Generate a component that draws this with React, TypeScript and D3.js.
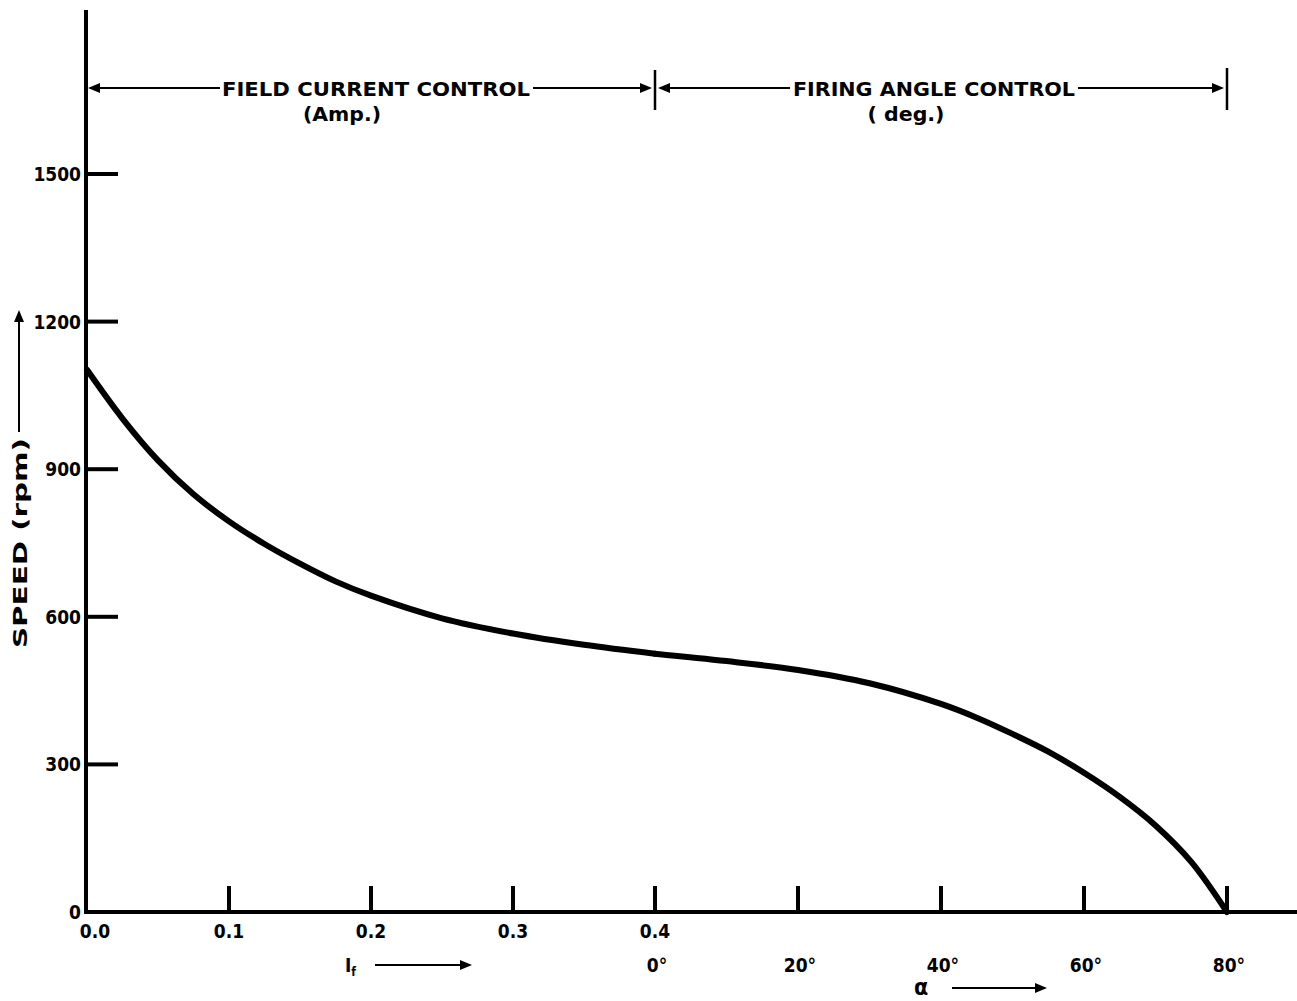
import React from "react";
import * as d3 from "d3";

// Field current control segment: If (A) -> speed (rpm)
const fieldCurrent = [0.0, 0.025, 0.05, 0.075, 0.1, 0.125, 0.15, 0.175, 0.2, 0.25, 0.3, 0.35, 0.4];
const fieldSpeed = [1102, 1003, 918, 849, 794, 748, 708, 672, 643, 597, 566, 543, 525];

// Firing angle control segment: alpha (deg) -> speed (rpm)
const firingAngle = [0, 10, 20, 30, 40, 45, 50, 55, 60, 65, 70, 75, 80];
const firingSpeed = [525, 510, 492, 465, 423, 395, 362, 326, 283, 234, 176, 102, 0];

const speedTicks = [0, 300, 600, 900, 1200, 1500];
const currentTicks = [0.0, 0.1, 0.2, 0.3, 0.4];
const currentTickLabels = ["0.0", "0.1", "0.2", "0.3", "0.4"];
const angleTicks = [0, 20, 40, 60, 80];
const angleTickLabels = ["0°", "20°", "40°", "60°", "80°"];

const FONT = "'DejaVu Sans Condensed', 'Liberation Sans Narrow', 'DejaVu Sans', sans-serif";

export default function App() {
  const W = 1297;
  const H = 1001;
  const y = d3.scaleLinear().domain([0, 1500]).range([912, 174]);
  const xI = d3.scaleLinear().domain([0, 0.4]).range([87, 655]);
  const xA = d3.scaleLinear().domain([0, 80]).range([655, 1227]);

  const lineI = d3
    .line<number>()
    .x((_, i) => xI(fieldCurrent[i]))
    .y((d) => y(d))
    .curve(d3.curveCatmullRom.alpha(0.5));
  const lineA = d3
    .line<number>()
    .x((_, i) => xA(firingAngle[i]))
    .y((d) => y(d))
    .curve(d3.curveCatmullRom.alpha(0.5));

  const axisX = xI(0) - 1;
  const axisY = y(0);
  const arrowY = 88;

  const arrowHead = (x: number, yy: number, dir: "l" | "r" | "u") => {
    const L = 12, Hh = 5;
    let pts: number[][];
    if (dir === "l") pts = [[x, yy], [x + L, yy - Hh], [x + L, yy + Hh]];
    else if (dir === "r") pts = [[x, yy], [x - L, yy - Hh], [x - L, yy + Hh]];
    else pts = [[x, yy], [x - Hh, yy + L], [x + Hh, yy + L]];
    return <polygon points={pts.map((p) => p.join(",")).join(" ")} fill="#000" />;
  };

  const txt = { fontFamily: FONT, fontWeight: 700, fill: "#000" } as const;

  return (
    <div style={{ position: "fixed", left: 0, top: 0, width: W, height: H, background: "#fff" }}>
      <svg width={W} height={H} viewBox={`0 0 ${W} ${H}`}>
        <rect width={W} height={H} fill="#fff" />
        {/* axes */}
        <line x1={axisX} y1={10} x2={axisX} y2={axisY + 2} stroke="#000" strokeWidth={4} />
        <line x1={axisX - 2} y1={axisY} x2={W} y2={axisY} stroke="#000" strokeWidth={4} />

        {/* y ticks */}
        {speedTicks.map((t) => (
          <g key={"y" + t}>
            {t > 0 && (
              <line x1={axisX} x2={axisX + 32} y1={y(t)} y2={y(t)} stroke="#000" strokeWidth={4} />
            )}
            <text x={axisX - 5} y={y(t) + 7} textAnchor="end" fontSize={19} {...txt}>
              {t}
            </text>
          </g>
        ))}

        {/* x ticks: field current */}
        {currentTicks.map((t, i) => (
          <g key={"xi" + t}>
            {t > 0 && (
              <line x1={xI(t)} x2={xI(t)} y1={axisY} y2={axisY - 26} stroke="#000" strokeWidth={4} />
            )}
            <text x={i === 0 ? xI(t) + 8 : xI(t)} y={axisY + 26} textAnchor="middle" fontSize={19} {...txt}>
              {currentTickLabels[i]}
            </text>
          </g>
        ))}
        {/* x ticks: firing angle */}
        {angleTicks.map((t, i) => (
          <g key={"xa" + t}>
            {t > 0 && (
              <line x1={xA(t)} x2={xA(t)} y1={axisY} y2={axisY - 26} stroke="#000" strokeWidth={4} />
            )}
            <text x={xA(t) + 2} y={axisY + 60} textAnchor="middle" fontSize={19} {...txt}>
              {angleTickLabels[i]}
            </text>
          </g>
        ))}

        {/* axis sub-labels */}
        <text x={345} y={axisY + 60} fontSize={19} {...txt}>
          I<tspan fontSize={12} dy={4}>f</tspan>
        </text>
        <line x1={375} x2={460} y1={axisY + 53} y2={axisY + 53} stroke="#000" strokeWidth={2} />
        {arrowHead(472, axisY + 53, "r")}

        <text x={914} y={axisY + 83} fontSize={23} {...txt}>α</text>
        <line x1={952} x2={1035} y1={axisY + 76} y2={axisY + 76} stroke="#000" strokeWidth={2} />
        {arrowHead(1047, axisY + 76, "r")}

        {/* y axis title */}
        <text
          transform={`translate(27, 543) rotate(-90)`}
          textAnchor="middle"
          fontSize={20}
          textLength={210}
          lengthAdjust="spacingAndGlyphs"
          {...txt}
        >
          SPEED (rpm)
        </text>
        <line x1={19} x2={19} y1={432} y2={322} stroke="#000" strokeWidth={2} />
        {arrowHead(19, 310, "u")}

        {/* top range annotations */}
        <line x1={100} x2={220} y1={arrowY} y2={arrowY} stroke="#000" strokeWidth={2} />
        {arrowHead(88, arrowY, "l")}
        <text x={376} y={arrowY + 8} textAnchor="middle" fontSize={20} textLength={308} lengthAdjust="spacingAndGlyphs" {...txt}>
          FIELD CURRENT CONTROL
        </text>
        <text x={342} y={arrowY + 33} textAnchor="middle" fontSize={19} textLength={78} lengthAdjust="spacingAndGlyphs" {...txt}>
          (Amp.)
        </text>
        <line x1={533} x2={640} y1={arrowY} y2={arrowY} stroke="#000" strokeWidth={2} />
        {arrowHead(652, arrowY, "r")}
        <line x1={655} x2={655} y1={70} y2={110} stroke="#000" strokeWidth={2.5} />
        {arrowHead(658, arrowY, "l")}
        <line x1={670} x2={790} y1={arrowY} y2={arrowY} stroke="#000" strokeWidth={2} />
        <text x={934} y={arrowY + 8} textAnchor="middle" fontSize={20} textLength={282} lengthAdjust="spacingAndGlyphs" {...txt}>
          FIRING ANGLE CONTROL
        </text>
        <text x={906} y={arrowY + 33} textAnchor="middle" fontSize={19} textLength={77} lengthAdjust="spacingAndGlyphs" {...txt}>
          ( deg.)
        </text>
        <line x1={1078} x2={1212} y1={arrowY} y2={arrowY} stroke="#000" strokeWidth={2} />
        {arrowHead(1224, arrowY, "r")}
        <line x1={1227} x2={1227} y1={68} y2={110} stroke="#000" strokeWidth={2.5} />

        {/* curves */}
        <path d={lineI(fieldSpeed) || ""} fill="none" stroke="#000" strokeWidth={6} strokeLinecap="round" />
        <path d={lineA(firingSpeed) || ""} fill="none" stroke="#000" strokeWidth={6} strokeLinecap="round" />
      </svg>
    </div>
  );
}
